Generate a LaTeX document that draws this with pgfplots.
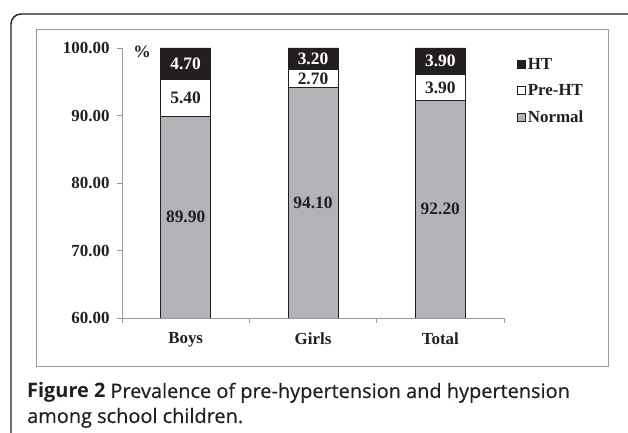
\documentclass[border=0pt]{standalone}
\usepackage{pgfplots}
\pgfplotsset{compat=1.18}
\usepackage{fontspec}
\setmainfont{Liberation Serif}
\newfontfamily\capfont{Open Sans}
\newfontfamily\capreg[FakeBold=0.5]{Open Sans}
\definecolor{ink}{HTML}{231F20}
\definecolor{normalgray}{HTML}{B2B3B7}
\definecolor{axgray}{HTML}{9A9A9A}
\pgfplotstableread{
x Normal PreHT HT
0 89.9 5.4 4.7
1 94.1 2.7 3.2
2 92.2 3.9 3.9
}\prev
\begin{document}
\begin{tikzpicture}[x=1bp,y=1bp]
\useasboundingbox (0,0) rectangle (628,433);
\draw[ink, line width=1.4bp, rounded corners=10bp] (11,-5) -- (11,419) -- (640,419);
\draw[axgray, line width=1bp] (36,66) rectangle (608,403);
\begin{axis}[
  at={(122bp,115bp)}, anchor=south west,
  scale only axis, width=382bp, height=270bp,
  xmin=-0.5, xmax=2.5, ymin=60, ymax=100,
  ybar stacked, bar width=50bp,
  axis x line=bottom, axis y line=left,
  axis line style={axgray, line width=0.8bp, -},
  xtick={0,1,2}, xticklabels={Boys,Girls,Total},
  x tick style={draw=none},
  extra x ticks={-0.5,0.5,1.5,2.5}, extra x tick labels={},
  extra x tick style={x tick style={draw=axgray, line width=0.8bp}},
  ytick={60,70,80,90,100}, yticklabels={60.00,70.00,80.00,90.00,100.00},
  y tick style={draw=axgray, line width=0.8bp},
  tick align=outside, major tick length=5bp,
  tick label style={font=\fontsize{17}{20}\selectfont\bfseries, text=ink},
  yticklabel style={xshift=-4bp},
  xticklabel style={yshift=-6bp},
  legend style={at={(1,1)}, anchor=north west, xshift=13bp, yshift=-8bp,
    draw=none, fill=none, font=\fontsize{17}{20}\selectfont\bfseries, text=ink,
    row sep=9.5bp, inner sep=0pt},
  legend cell align=left,
  reverse legend,
  legend image code/.code={\draw[#1, draw=ink, line width=0.6bp] (0bp,-4bp) rectangle (8bp,4bp);},
]
\addplot[fill=normalgray, draw=ink, line width=0.8bp] table[x=x, y=Normal] {\prev};
\addplot[fill=white, draw=ink, line width=0.8bp] table[x=x, y=PreHT] {\prev};
\addplot[fill=ink, draw=ink, line width=0.8bp] table[x=x, y=HT] {\prev};
\legend{Normal, Pre-HT, HT}
\coordinate (a1) at (axis cs:0,74.95);
\coordinate (a2) at (axis cs:0,92.6);
\coordinate (a3) at (axis cs:0,97.65);
\coordinate (b1) at (axis cs:1,77.05);
\coordinate (b2) at (axis cs:1,95.45);
\coordinate (b3) at (axis cs:1,98.4);
\coordinate (c1) at (axis cs:2,76.1);
\coordinate (c2) at (axis cs:2,94.15);
\coordinate (c3) at (axis cs:2,98.05);
\end{axis}
\begin{scope}[every node/.style={font=\fontsize{17.5}{20}\selectfont\bfseries, text=ink, inner sep=0pt}]
\node at (a1) {89.90};
\node at (a2) {5.40};
\node[text=white] at (a3) {4.70};
\node at (b1) {94.10};
\node at (b2) {2.70};
\node[text=white] at (b3) {3.20};
\node at (c1) {92.20};
\node at (c2) {3.90};
\node[text=white] at (c3) {3.90};
\node at (142,381) {\%};
\end{scope}
\node[anchor=base west, font=\fontsize{20}{24}\selectfont, text=ink, inner sep=0pt] at (27,35) {{\capfont\bfseries Figure 2} {\capreg Prevalence of pre-hypertension and hypertension}};
\node[anchor=base west, font=\fontsize{20}{24}\selectfont, text=ink, inner sep=0pt] at (27,10) {\capreg among school children.};
\end{tikzpicture}
\end{document}
